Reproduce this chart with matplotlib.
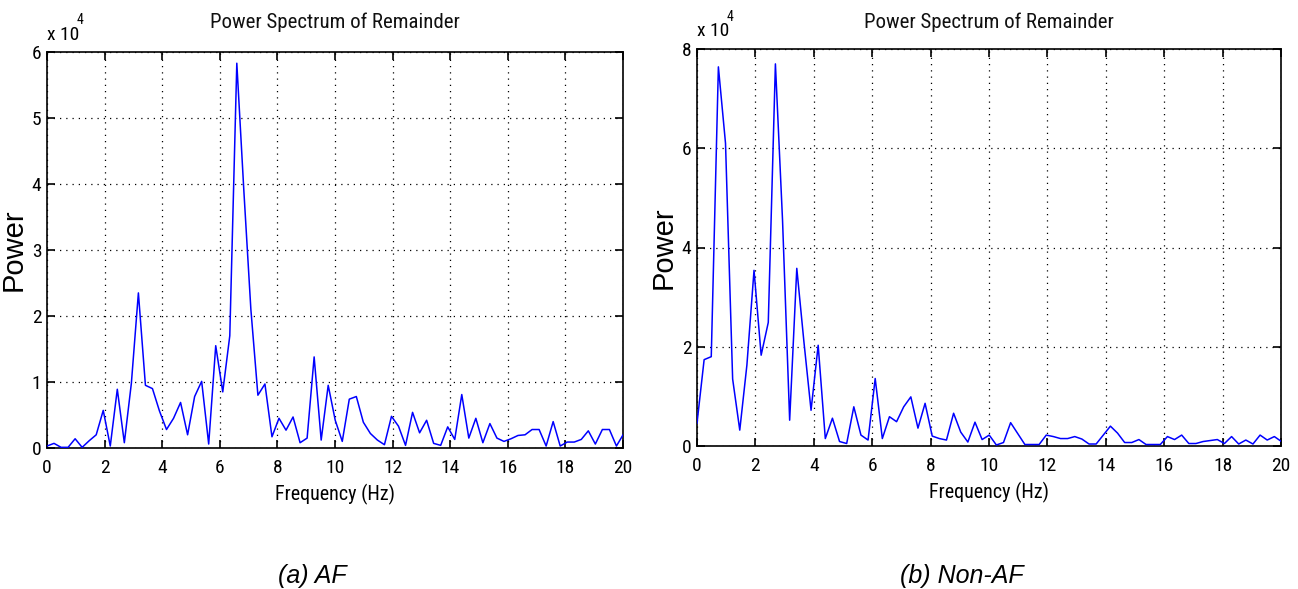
import numpy as np
import matplotlib
matplotlib.use("Agg")
import matplotlib.pyplot as plt
import matplotlib.font_manager as fm
from matplotlib.font_manager import FontProperties

# ---------------- data ----------------
freq_step_hz = 0.2441  # spectral resolution (Hz)

# Power in units of 1e4
af_power = [0.03, 0.07, 0.01, 0.01, 0.14, 0.01, 0.11, 0.20, 0.57, 0.03,
            0.89, 0.08, 0.98, 2.35, 0.95, 0.90, 0.56, 0.28, 0.45, 0.69,
            0.20, 0.78, 1.01, 0.06, 1.55, 0.85, 1.70, 5.83, 3.90, 2.10,
            0.80, 0.97, 0.17, 0.45, 0.27, 0.47, 0.08, 0.15, 1.38, 0.12,
            0.95, 0.42, 0.10, 0.74, 0.78, 0.39, 0.22, 0.12, 0.05, 0.48,
            0.33, 0.04, 0.54, 0.23, 0.42, 0.07, 0.04, 0.32, 0.13, 0.81,
            0.15, 0.45, 0.08, 0.37, 0.15, 0.10, 0.14, 0.19, 0.20, 0.28,
            0.28, 0.03, 0.40, 0.03, 0.09, 0.09, 0.13, 0.26, 0.06, 0.28,
            0.28, 0.03, 0.21]

nonaf_power = [0.46, 1.74, 1.80, 7.64, 6.10, 1.35, 0.32, 1.63, 3.54, 1.83,
               2.49, 7.70, 4.55, 0.52, 3.58, 2.10, 0.72, 2.03, 0.15, 0.56,
               0.09, 0.05, 0.79, 0.22, 0.12, 1.36, 0.15, 0.59, 0.49, 0.79,
               0.99, 0.36, 0.86, 0.20, 0.15, 0.12, 0.66, 0.28, 0.08, 0.48,
               0.13, 0.22, 0.02, 0.07, 0.47, 0.25, 0.03, 0.03, 0.03, 0.22,
               0.19, 0.15, 0.15, 0.19, 0.14, 0.04, 0.04, 0.22, 0.40, 0.26,
               0.07, 0.07, 0.13, 0.03, 0.03, 0.03, 0.19, 0.13, 0.22, 0.05,
               0.05, 0.09, 0.11, 0.13, 0.05, 0.19, 0.04, 0.12, 0.04, 0.22,
               0.12, 0.19, 0.09]

x_ticks = [0, 2, 4, 6, 8, 10, 12, 14, 16, 18, 20]
af_yticks = [0, 1, 2, 3, 4, 5, 6]
nonaf_yticks = [0, 2, 4, 6, 8]

title_text = "Power Spectrum of Remainder"
xlabel_text = "Frequency (Hz)"
ylabel_text = "Power"
captions = ["(a) AF", "(b) Non-AF"]

# ---------------- fonts ----------------
# look for a condensed sans face (the reference text is narrow)
cond_path = None
pref = ["Liberation Sans Narrow", "Roboto Condensed", "Open Sans Condensed",
        "Noto Sans", "Roboto", "Open Sans", "Inter"]
cands = []
for f in fm.fontManager.ttflist:
    st = str(f.stretch).lower()
    is_cond = ("narrow" in f.name.lower() or "condensed" in f.name.lower()
               or "condensed" in st or st in ("75", "62", "87", "50"))
    w = f.weight if isinstance(f.weight, int) else {"normal": 400, "regular": 400, "book": 400}.get(str(f.weight).lower(), 0)
    if is_cond and f.style == "normal" and w == 400 and "semi" not in st and "extra" not in st and "ultra" not in st:
        rank = next((i for i, p in enumerate(pref) if f.name.startswith(p)), 99)
        cands.append((rank, f.fname))
if cands:
    cands.sort()
    cond_path = cands[0][1]


def narrow_fp(size):
    if cond_path:
        return FontProperties(fname=cond_path, size=size)
    return FontProperties(family="Liberation Sans", size=size * 0.86)


regular = "Liberation Sans"

W, H = 1298, 589
fig = plt.figure(figsize=(W / 100, H / 100), dpi=100)
fig.patch.set_facecolor("white")

panels = [
    dict(rect=[47 / W, 1 - 448 / H, 576 / W, 396 / H], y=af_power,
         yticks=af_yticks, ylim=(0, 6), title_pad=17, cap_x=312),
    dict(rect=[697 / W, 1 - 446 / H, 584 / W, 397 / H], y=nonaf_power,
         yticks=nonaf_yticks, ylim=(0, 8), title_pad=15, cap_x=962),
]

for i, p in enumerate(panels):
    ax = fig.add_axes(p["rect"])
    y = np.array(p["y"])
    f = np.arange(len(y)) * freq_step_hz
    ax.plot(f, y, color="#0000ff", lw=1.1, zorder=3, clip_on=True)
    ax.set_xlim(0, 20)
    ax.set_ylim(*p["ylim"])
    ax.set_xticks(x_ticks)
    ax.set_yticks(p["yticks"])
    ax.set_xticklabels([str(v) for v in x_ticks], fontproperties=narrow_fp(14))
    ax.set_yticklabels([str(v) for v in p["yticks"]], fontproperties=narrow_fp(14))
    ax.tick_params(direction="in", length=6, width=1.2, top=True, right=True,
                   colors="black")
    ax.tick_params(axis="x", pad=8)
    ax.tick_params(axis="y", pad=4)
    ax.grid(True, color="black", linestyle=(0, (1, 4)), linewidth=0.9, zorder=1)
    for sp in ax.spines.values():
        sp.set_linewidth(1.2)
        sp.set_color("black")
    ax.set_title(title_text, fontproperties=narrow_fp(15), y=1.0,
                 pad=p["title_pad"], color="#111111")
    ax.set_xlabel(xlabel_text, fontproperties=narrow_fp(14.5), labelpad=5)
    ax.set_ylabel(ylabel_text, family=regular, fontsize=21, labelpad=3)
    ax.annotate("x 10", xy=(0, 1), xycoords="axes fraction", xytext=(0, 9),
                textcoords="offset points", ha="left", va="baseline",
                fontproperties=narrow_fp(14))
    ax.annotate("4", xy=(0, 1), xycoords="axes fraction", xytext=(21.5, 20),
                textcoords="offset points", ha="left", va="baseline",
                fontproperties=narrow_fp(10))
    fig.text(p["cap_x"] / W, 1 - 583 / H, captions[i], family=regular,
             style="italic", fontsize=18, ha="center", va="baseline")

fig.savefig("out.png", dpi=100, facecolor="white")
